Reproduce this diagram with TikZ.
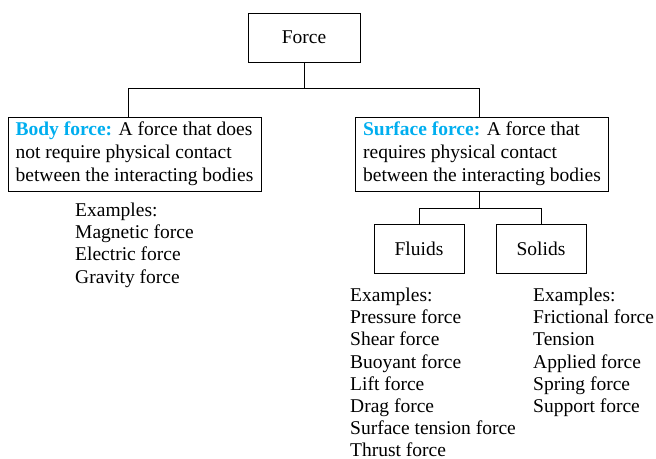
\documentclass[tikz,border=0pt]{standalone}
\usepackage{fontspec}
\setmainfont{Liberation Serif}
\usetikzlibrary{calc}
\definecolor{hd}{RGB}{0,174,239}
\begin{document}
\begin{tikzpicture}[x=1pt,y=-1pt,
  font=\fontsize{19.5}{22.8}\selectfont,
  box/.style={draw, line width=0.8pt, inner sep=0pt},
  bigbox/.style={box, minimum width=253pt, minimum height=74pt, align=left},
  smallbox/.style={box, minimum width=90pt, minimum height=49pt},
  list/.style={anchor=north west, inner sep=0pt, align=left, font=\fontsize{19.5}{22.1}\selectfont},
  conn/.style={line width=0.8pt}]
\useasboundingbox (0,0) rectangle (656,458);
\node[box, minimum width=112pt, minimum height=49pt] (force) at (304,37.5) {Force};
\node[bigbox] (body) at (134.5,154) {\textcolor{hd}{\textbf{Body force:}} A force that does\\not require physical contact\\between the interacting bodies};
\node[bigbox] (surface) at (482,154) {\textcolor{hd}{\textbf{Surface force:}} A force that\\requires physical contact\\between the interacting bodies};
\node[smallbox] (fluids) at (419,248.5) {Fluids};
\node[smallbox] (solids) at (541,248.5) {Solids};
\coordinate (j1) at ($(force.south)+(0,26)$);
\coordinate (j2) at ($(surface.south)+(-3,17)$);
\draw[conn] (force.south) -- (j1);
\draw[conn] ($(body.north)+(-6.5,0)$) |- (j1) -| ($(surface.north)+(-3,0)$);
\draw[conn] ($(surface.south)+(-3,0)$) -- (j2);
\draw[conn] (fluids.north) |- (j2) -| (solids.north);
\node[list] (bex) at (75,203) {Examples:\\Magnetic force\\Electric force\\Gravity force};
\node[list] (fex) at (350,288) {Examples:\\Pressure force\\Shear force\\Buoyant force\\Lift force\\Drag force\\Surface tension force\\Thrust force};
\node[list] (sex) at (533,288) {Examples:\\Frictional force\\Tension\\Applied force\\Spring force\\Support force};
\end{tikzpicture}
\end{document}
